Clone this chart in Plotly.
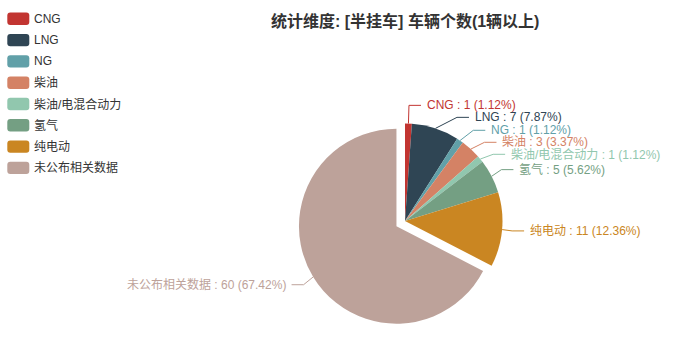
import math
import plotly.graph_objects as go

# ---- data ----
categories = ["CNG", "LNG", "NG", "柴油", "柴油/电混合动力", "氢气", "纯电动", "未公布相关数据"]
values = [1, 7, 1, 3, 1, 5, 11, 60]
colors = ["#c23531", "#2f4554", "#61a0a8", "#d48265", "#91c7ae", "#749f83", "#ca8622", "#bda29a"]
selected = "未公布相关数据"
title_text = "统计维度: [半挂车] 车辆个数(1辆以上)"

# ---- layout constants ----
W, H = 700, 353
CX, CY, R = 405, 221, 97.5
OFFSET = 10
LEN1, LEN2, LDIST, LH = 15, 12, 5, 12
FONT = "Liberation Sans, Noto Sans CJK SC, sans-serif"
TXT = "#333333"

total = sum(values)
pcts = [round(v / total * 100, 2) for v in values]
labels = [f"{c} : {v} ({p:g}%)" for c, v, p in zip(categories, values, pcts)]

# ---- label layout (echarts-like) ----
items = []
cum = 0.0
for i, v in enumerate(values):
    mid = (cum + v / 2) / total * 2 * math.pi
    cum += v
    dx, dy = math.sin(mid), -math.cos(mid)
    off = OFFSET if categories[i] == selected else 0
    d = -1 if dx < 0 else 1
    x1, y1 = CX + R * dx, CY + R * dy
    x2, y2 = CX + (R + LEN1) * dx, CY + (R + LEN1) * dy
    x3 = x2 + d * LEN2
    items.append(dict(i=i, d=d, x=x3 + d * LDIST, y=y2, x1=x1, y1=y1,
                      ox=dx * off, oy=dy * off, h=LH))


def adjust(lst, d):
    lst.sort(key=lambda a: a["y"])
    n = len(lst)

    def shift_up(end, delta):
        for j in range(end, -1, -1):
            lst[j]["y"] -= delta
            if j > 0 and lst[j]["y"] > lst[j - 1]["y"] + lst[j - 1]["h"]:
                break

    def shift_down(start, end, delta):
        for j in range(start, end):
            lst[j]["y"] += delta
            if j > start and j + 1 < end and lst[j + 1]["y"] > lst[j]["y"] + lst[j]["h"]:
                shift_up(j, delta / 2)
                return
        shift_up(end - 1, delta / 2)

    last_y = 0
    for i in range(n):
        delta = lst[i]["y"] - last_y
        if delta < 0:
            shift_down(i, n, -delta)
        last_y = lst[i]["y"] + lst[i]["h"]

    up = [a for a in lst if a["y"] < CY]
    down = [a for a in lst if a["y"] >= CY]
    RR = R + LEN1 + LEN2
    for group, is_down in ((up, False), (down, True)):
        last_dx = float("inf") if is_down else 0
        for a in group:
            dyy = abs(a["y"] - CY)
            if dyy < R + LEN1:
                ddx = math.sqrt(RR * RR - dyy * dyy)
            else:
                ddx = abs(a["x"] - CX)
            if is_down and ddx >= last_dx:
                ddx = last_dx - 10
            if not is_down and ddx <= last_dx:
                ddx = last_dx + 10
            a["x"] = CX + ddx * d
            last_dx = ddx


adjust([a for a in items if a["x"] >= CX], 1)
adjust([a for a in items if a["x"] < CX], -1)

fig = go.Figure()

# leader lines
annotations = []
for a in items:
    i, d = a["i"], a["d"]
    lx3 = a["x"] - d * LDIST
    lx2 = lx3 - d * LEN2
    xs = [a["x1"] + a["ox"], lx2 + a["ox"], lx3 + a["ox"]]
    ys = [a["y1"] + a["oy"], a["y"] + a["oy"], a["y"] + a["oy"]]
    fig.add_trace(go.Scatter(x=xs, y=ys, mode="lines", line=dict(color=colors[i], width=1),
                             hoverinfo="skip", showlegend=False))
    annotations.append(dict(x=a["x"] + a["ox"], y=a["y"] + a["oy"], xref="x", yref="y",
                            text=labels[i], showarrow=False, borderpad=0,
                            xanchor="left" if d > 0 else "right", yanchor="middle",
                            font=dict(size=12, color=colors[i], family=FONT)))

# pie
pulls = [OFFSET / R if c == selected else 0 for c in categories]
half = R * (1 + max(pulls))
fig.add_trace(go.Pie(
    labels=categories, values=values, sort=False, direction="clockwise", rotation=0,
    marker=dict(colors=colors, line=dict(width=0)),
    pull=pulls, textinfo="none", hoverinfo="label+value+percent", showlegend=False,
    domain=dict(x=[(CX - half) / W, (CX + half) / W],
                y=[(H - CY - half) / H, (H - CY + half) / H]),
))

# manual legend
LEG_X0, LEG_X1, LEG_Y0, LEG_GAP, LEG_H = 7.3, 29.3, 18.8, 21.3, 12.4
shapes = []


def rrect(x0, y0, x1, y1, r):
    return (f"M{x0+r},{y0} L{x1-r},{y0} Q{x1},{y0} {x1},{y0+r} L{x1},{y1-r} "
            f"Q{x1},{y1} {x1-r},{y1} L{x0+r},{y1} Q{x0},{y1} {x0},{y1-r} "
            f"L{x0},{y0+r} Q{x0},{y0} {x0+r},{y0} Z")


for i, c in enumerate(categories):
    yc = LEG_Y0 + LEG_GAP * i
    shapes.append(dict(type="path", xref="x", yref="y",
                       path=rrect(LEG_X0, yc - LEG_H / 2, LEG_X1, yc + LEG_H / 2, 3),
                       fillcolor=colors[i], line=dict(width=0), layer="above"))
    annotations.append(dict(x=LEG_X1 + 4, y=yc, xref="x", yref="y", text=c, showarrow=False,
                            borderpad=0, xanchor="left", yanchor="middle",
                            font=dict(size=12, color=TXT, family=FONT)))

annotations.append(dict(x=CX, y=21, xref="x", yref="y", text=f"<b>{title_text}</b>",
                        showarrow=False, xanchor="center", yanchor="middle",
                        font=dict(size=16, color=TXT, family=FONT)))

fig.update_layout(
    width=W, height=H, margin=dict(l=0, r=0, t=0, b=0),
    paper_bgcolor="white", plot_bgcolor="white",
    xaxis=dict(range=[0, W], visible=False, fixedrange=True, domain=[0, 1]),
    yaxis=dict(range=[H, 0], visible=False, fixedrange=True, domain=[0, 1]),
    annotations=annotations, shapes=shapes, showlegend=False,
)

fig.write_html("out.html", config={"displayModeBar": False})
